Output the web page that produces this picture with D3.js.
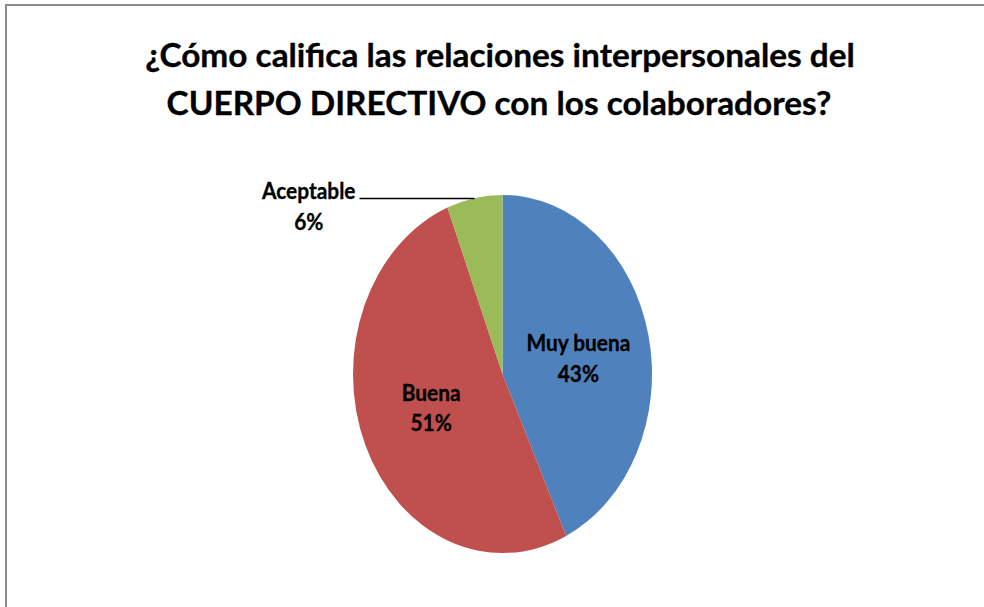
<!DOCTYPE html>
<html>
<head>
<meta charset="utf-8">
<script src="https://cdn.jsdelivr.net/npm/d3@7"></script>
<style>
  html, body { margin: 0; padding: 0; background: #fff; }
  svg { display: block; }
  text { font-family: Lato, "Open Sans", sans-serif; font-weight: bold; fill: #000; stroke: #000; stroke-width: 0.35px; }
</style>
</head>
<body>
<svg id="chart" width="984" height="607"></svg>
<script>
const titleLines = ["¿Cómo califica las relaciones interpersonales del", "CUERPO DIRECTIVO con los colaboradores?"];
const categories = ["Muy buena", "Buena", "Aceptable"];
const values = [43, 51, 6];
const colors = ["#4F81BD", "#C0504D", "#9BBB59"];

const W = 984, H = 607;
const svg = d3.select("#chart");

// frame (cut off at right and bottom)
svg.append("line").attr("x1", 5).attr("y1", 5).attr("x2", W).attr("y2", 5)
  .attr("stroke", "#8c8c8c").attr("stroke-width", 2);
svg.append("line").attr("x1", 6).attr("y1", 4).attr("x2", 6).attr("y2", H)
  .attr("stroke", "#8c8c8c").attr("stroke-width", 2);

// title
const tg = svg.append("g");
const t1 = tg.append("text").attr("text-anchor", "middle").attr("font-size", 33).text(titleLines[0]);
const w1 = t1.node().getComputedTextLength();
const k = 710 / w1; // horizontal condense factor
t1.attr("transform", `translate(500,66.5) scale(${k},1)`);
tg.append("text").attr("text-anchor", "middle").attr("font-size", 33)
  .attr("transform", `translate(499,115) scale(${k},1)`).text(titleLines[1]);

// pie (elliptical)
const cx = 502.5, cy = 374, rx = 149.5, ry = 179;
const sy = ry / rx;
const pie = d3.pie().sort(null).value(d => d)(values);
const arc = d3.arc().innerRadius(0).outerRadius(rx);
const labelArc = d3.arc().innerRadius(rx * 0.52).outerRadius(rx * 0.52);
const edgeArc = d3.arc().innerRadius(rx).outerRadius(rx);

const pg = svg.append("g").attr("transform", `translate(${cx},${cy}) scale(1,${sy})`);
pg.selectAll("path").data(pie).join("path")
  .attr("d", arc).attr("fill", (d, i) => colors[i]);

const fs = 23;
const lh = 30.5;
// label condense factor from "Muy buena"
const probe = svg.append("text").attr("font-size", fs).text(categories[0]);
const kL = 104 / probe.node().getComputedTextLength();
probe.remove();

// inside labels
pie.forEach((d, i) => {
  if (i === 2) return;
  const [x, y] = labelArc.centroid(d);
  const px = cx + x, py = cy + y * sy + (i === 0 ? 5 : -3);
  const g = svg.append("g").attr("transform", `translate(${px},${py}) scale(${kL},1)`);
  g.append("text").attr("text-anchor", "middle").attr("font-size", fs).attr("y", -lh / 2 + 8).text(categories[i]);
  g.append("text").attr("text-anchor", "middle").attr("font-size", fs).attr("y", lh / 2 + 8).text(values[i] + "%");
});

// outside label with leader
{
  const d = pie[2];
  const [ex, ey] = edgeArc.centroid(d);
  const x0 = cx + ex, y0 = Math.round(cy + ey * sy) + 0.5;
  const x1 = x0 - 115;
  svg.append("line").attr("x1", x0).attr("y1", y0).attr("x2", x1).attr("y2", y0)
    .attr("stroke", "#000").attr("stroke-width", 1.3);
  const g = svg.append("g");
  const a = g.append("text").attr("text-anchor", "middle").attr("font-size", fs).text(categories[2]);
  const aw = a.node().getComputedTextLength() * kL;
  const lx = x1 - 4 - aw / 2;
  g.attr("transform", `translate(${lx},${y0 + 0.5}) scale(${kL},1)`);
  g.append("text").attr("text-anchor", "middle").attr("font-size", fs).attr("y", 31).text(values[2] + "%");
}
</script>
</body>
</html>
